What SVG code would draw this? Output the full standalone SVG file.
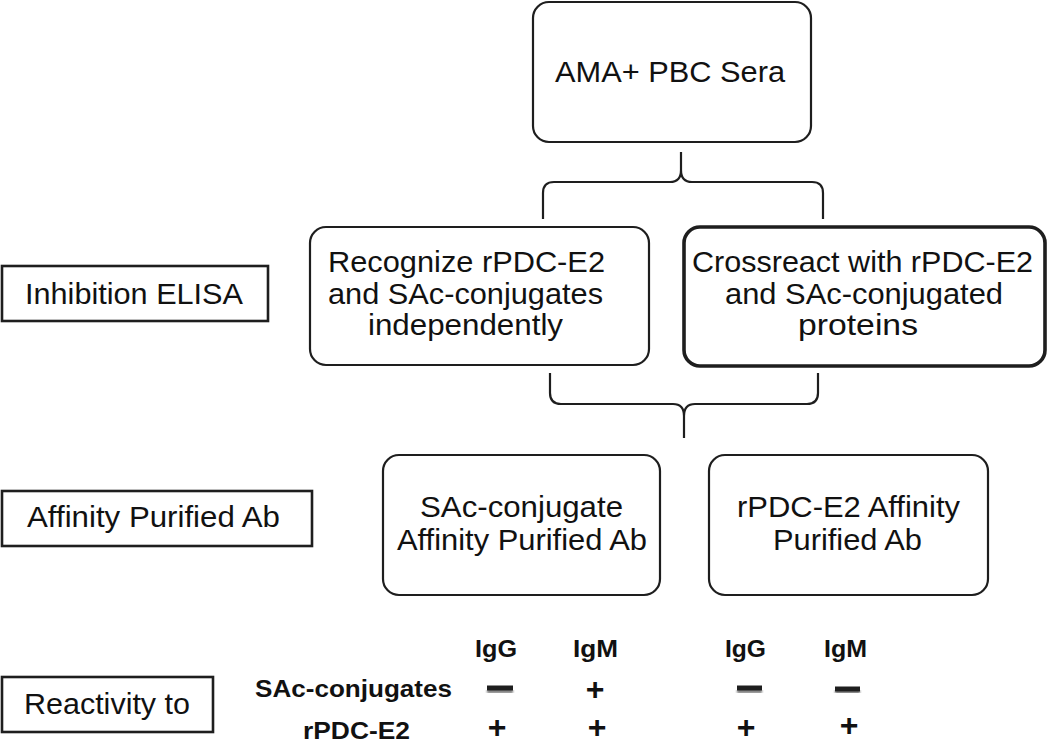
<svg xmlns="http://www.w3.org/2000/svg" width="1050" height="744" viewBox="0 0 1050 744">
<defs>
<style>
.box{fill:#fff;stroke:#1e1e1e;stroke-width:2.2}
.thick{fill:#fff;stroke:#1e1e1e;stroke-width:3.6}
.lab{fill:#fff;stroke:#1e1e1e;stroke-width:2.6}
.t{font-family:"Liberation Sans",Arial,sans-serif;font-size:30px;fill:#111}
.b{font-family:"Liberation Sans",Arial,sans-serif;font-size:24px;font-weight:bold;fill:#111}
.p{font-family:"Liberation Sans",Arial,sans-serif;font-size:32px;font-weight:bold;fill:#111;text-anchor:middle}
.brace{fill:none;stroke:#1e1e1e;stroke-width:2.2}
.minus{stroke:#1e1e1e;stroke-width:5;stroke-linecap:butt}
</style>
<filter id="sh" x="-20%" y="-100%" width="140%" height="300%">
<feGaussianBlur stdDeviation="1.2"/>
</filter>
</defs>
<rect width="1050" height="744" fill="#fff"/>

<g id="connectors">
<path class="brace" d="M543,219 L543,193 Q543,182 554,182 L670,182 Q681,182 681,170 L681,152 M681,170 Q681,182 692,182 L812,182 Q823,182 823,193 L823,219"/>
<path class="brace" d="M550,373 L550,393 Q550,404 561,404 L673,404 Q684,404 684,416 L684,438 M684,416 Q684,404 695,404 L807,404 Q818,404 818,393 L818,373"/>
</g>

<g id="node-sera">
<rect class="box" x="533" y="2" width="278" height="140" rx="16"/>
<text class="t" x="555" y="82" textLength="230" lengthAdjust="spacingAndGlyphs">AMA+ PBC Sera</text>
</g>

<g id="label-inhibition">
<rect class="lab" x="2" y="266" width="266" height="55"/>
<text class="t" x="25" y="304" textLength="218" lengthAdjust="spacingAndGlyphs">Inhibition ELISA</text>
</g>

<g id="node-recognize">
<rect class="box" x="310" y="227" width="339" height="138" rx="16"/>
<text class="t" x="328" y="272" textLength="277" lengthAdjust="spacingAndGlyphs">Recognize rPDC-E2</text>
<text class="t" x="328" y="304" textLength="275" lengthAdjust="spacingAndGlyphs">and SAc-conjugates</text>
<text class="t" x="368" y="335" textLength="195" lengthAdjust="spacingAndGlyphs">independently</text>
</g>

<g id="node-crossreact">
<rect class="thick" x="684" y="227" width="361" height="139" rx="16"/>
<text class="t" x="692" y="272" textLength="341" lengthAdjust="spacingAndGlyphs">Crossreact with rPDC-E2</text>
<text class="t" x="725" y="304" textLength="278" lengthAdjust="spacingAndGlyphs">and SAc-conjugated</text>
<text class="t" x="798" y="335" textLength="120" lengthAdjust="spacingAndGlyphs">proteins</text>
</g>

<g id="label-affinity">
<rect class="lab" x="2" y="491" width="310" height="55"/>
<text class="t" x="27" y="527" textLength="253" lengthAdjust="spacingAndGlyphs">Affinity Purified Ab</text>
</g>

<g id="node-sac-ab">
<rect class="box" x="383" y="455" width="277" height="140" rx="16"/>
<text class="t" x="420" y="517" textLength="203" lengthAdjust="spacingAndGlyphs">SAc-conjugate</text>
<text class="t" x="397" y="550" textLength="250" lengthAdjust="spacingAndGlyphs">Affinity Purified Ab</text>
</g>

<g id="node-rpdc-ab">
<rect class="box" x="709" y="455" width="279" height="140" rx="16"/>
<text class="t" x="737" y="517" textLength="223" lengthAdjust="spacingAndGlyphs">rPDC-E2 Affinity</text>
<text class="t" x="773" y="550" textLength="149" lengthAdjust="spacingAndGlyphs">Purified Ab</text>
</g>

<g id="label-reactivity">
<rect class="lab" x="2" y="677" width="211" height="55"/>
<text class="t" x="24" y="714" textLength="166" lengthAdjust="spacingAndGlyphs">Reactivity to</text>
</g>

<g id="table">
<text class="b" x="475" y="657" textLength="42" lengthAdjust="spacingAndGlyphs">IgG</text>
<text class="b" x="573" y="657" textLength="45" lengthAdjust="spacingAndGlyphs">IgM</text>
<text class="b" x="725" y="657" textLength="41" lengthAdjust="spacingAndGlyphs">IgG</text>
<text class="b" x="824" y="657" textLength="43" lengthAdjust="spacingAndGlyphs">IgM</text>
<text class="b" x="255" y="697" textLength="197" lengthAdjust="spacingAndGlyphs">SAc-conjugates</text>
<text class="b" x="303" y="739" textLength="107" lengthAdjust="spacingAndGlyphs">rPDC-E2</text>
<g filter="url(#sh)" opacity="0.55">
<line class="minus" x1="487" y1="691" x2="513" y2="691"/>
<line class="minus" x1="737" y1="691" x2="762" y2="691"/>
<line class="minus" x1="835" y1="692" x2="860" y2="692"/>
</g>
<line class="minus" x1="487" y1="688" x2="513" y2="688"/>
<line class="minus" x1="737" y1="688" x2="762" y2="688"/>
<line class="minus" x1="835" y1="689" x2="860" y2="689"/>
<text class="p" x="595" y="700">+</text>
<text class="p" x="497" y="738">+</text>
<text class="p" x="597" y="738">+</text>
<text class="p" x="746" y="738">+</text>
<text class="p" x="849" y="736">+</text>
</g>
</svg>
